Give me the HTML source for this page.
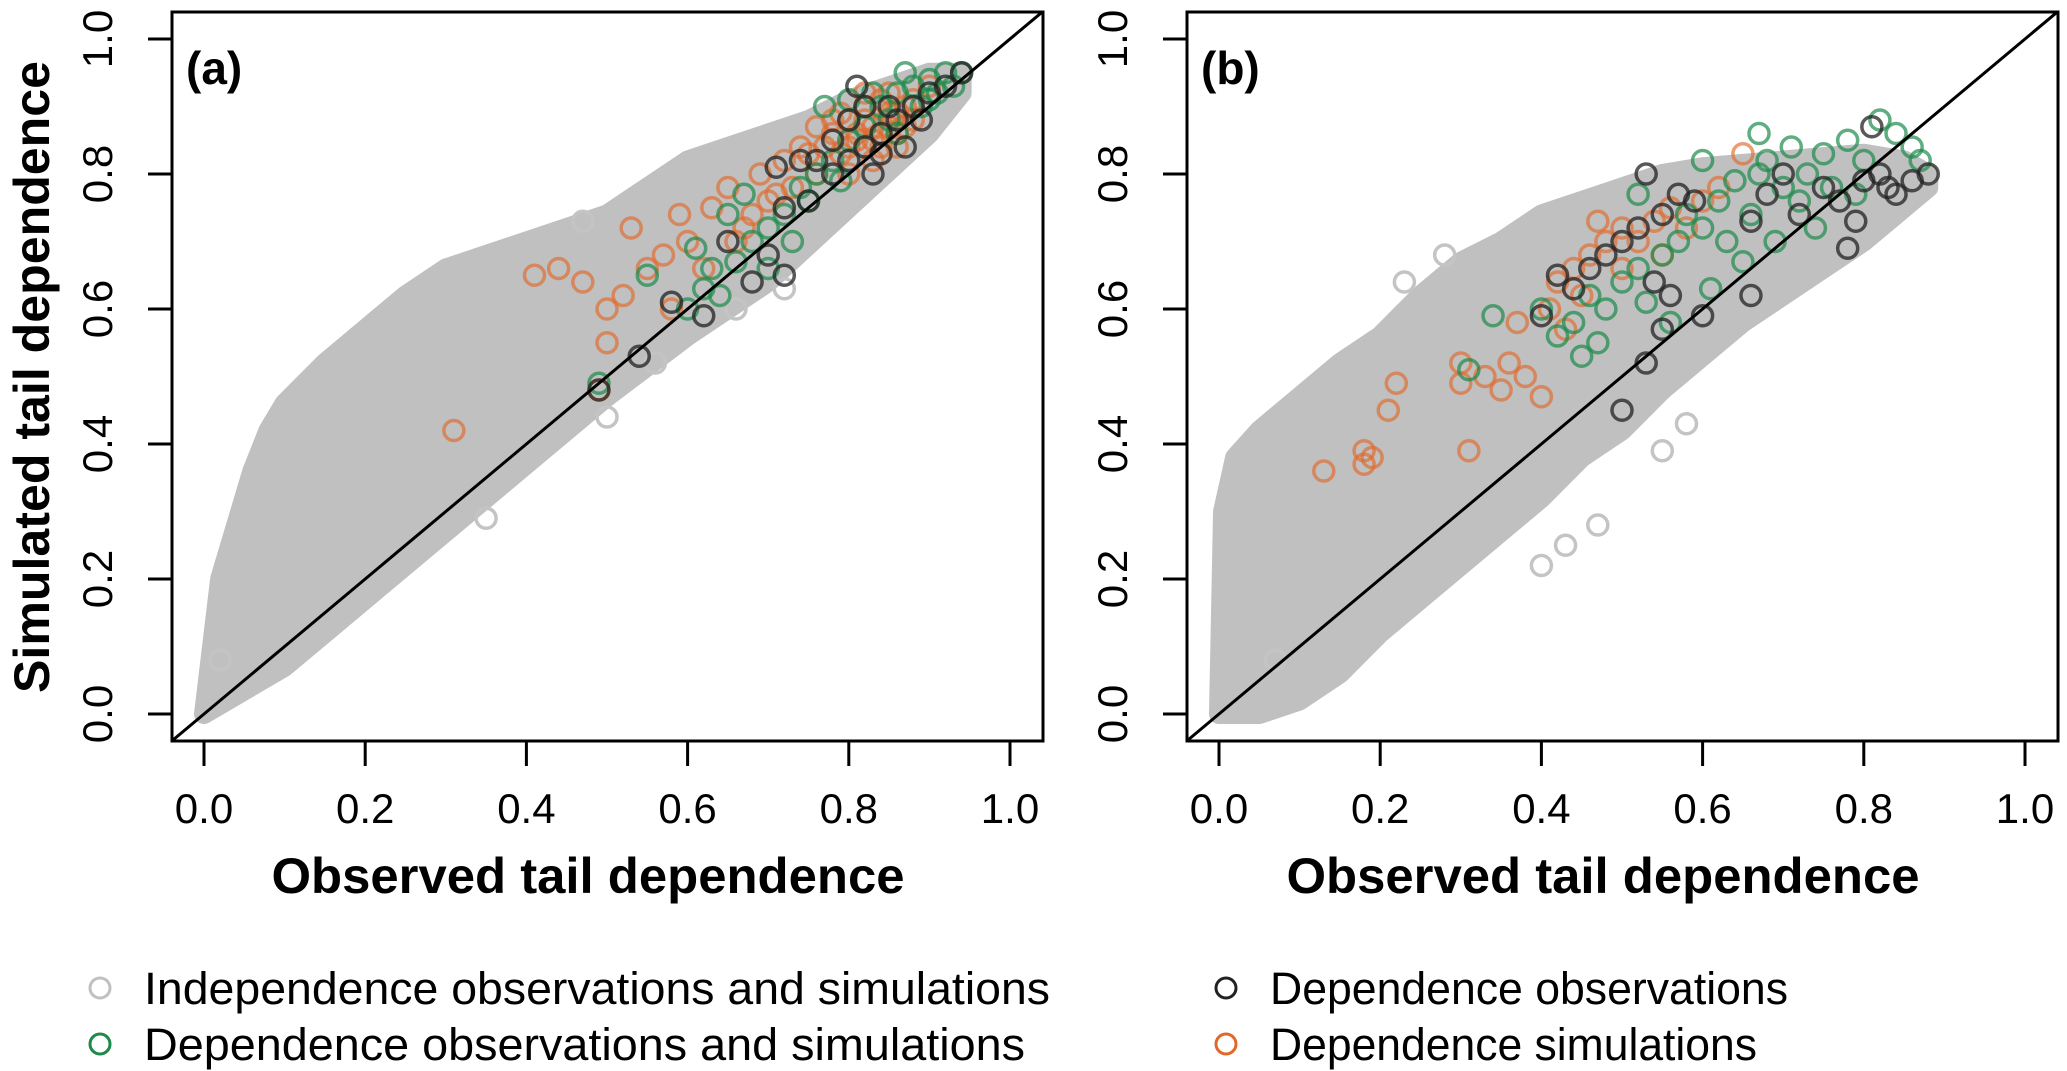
<!DOCTYPE html>
<html><head><meta charset="utf-8"><style>html,body{margin:0;padding:0;background:#fff}svg{display:block}</style></head>
<body>
<svg id="chart" width="2067" height="1071" viewBox="0 0 2067 1071" xmlns="http://www.w3.org/2000/svg" font-family="'Liberation Sans', sans-serif">
<defs>
<clipPath id="clipA"><rect x="172" y="12" width="871" height="729"/></clipPath>
<clipPath id="clipB"><rect x="1187" y="12" width="871" height="729"/></clipPath>
</defs>
<g id="panelA"></g>
<g id="panelB"></g>
<text x="32" y="377" transform="rotate(-90 32 377)" text-anchor="middle" dominant-baseline="central" font-weight="bold" font-size="50" textLength="632" lengthAdjust="spacingAndGlyphs">Simulated tail dependence</text>
<g>
<circle cx="100" cy="988" r="10" fill="none" stroke="#c0c0c0" stroke-width="3"/>
<text x="144" y="1004" font-size="45" textLength="906" lengthAdjust="spacingAndGlyphs">Independence observations and simulations</text>
<circle cx="100" cy="1044" r="10" fill="none" stroke="#1b8a4a" stroke-width="3"/>
<text x="144" y="1060" font-size="45" textLength="881" lengthAdjust="spacingAndGlyphs">Dependence observations and simulations</text>
<circle cx="1226" cy="988" r="10" fill="none" stroke="#222" stroke-width="3"/>
<text x="1270" y="1004" font-size="45" textLength="518" lengthAdjust="spacingAndGlyphs">Dependence observations</text>
<circle cx="1226" cy="1044" r="10" fill="none" stroke="#e0682a" stroke-width="3"/>
<text x="1270" y="1060" font-size="45" textLength="487" lengthAdjust="spacingAndGlyphs">Dependence simulations</text>
</g>
</svg>
<script>
const ticks = [0, 0.2, 0.4, 0.6, 0.8, 1.0];
const tickLabels = ["0.0", "0.2", "0.4", "0.6", "0.8", "1.0"];
const aUpperX = [0, 0.01, 0.02, 0.04, 0.06, 0.08, 0.1, 0.15, 0.2, 0.25, 0.3, 0.35, 0.4, 0.45, 0.5, 0.55, 0.6, 0.65, 0.7, 0.75, 0.8, 0.85, 0.9, 0.94];
const aUpperY = [0, 0.1, 0.2, 0.28, 0.36, 0.42, 0.46, 0.52, 0.57, 0.62, 0.66, 0.68, 0.70, 0.72, 0.74, 0.78, 0.82, 0.84, 0.86, 0.88, 0.91, 0.93, 0.95, 0.95];
const aLowerX = [0, 0.1, 0.2, 0.3, 0.4, 0.5, 0.6, 0.7, 0.8, 0.9, 0.94];
const aLowerY = [0, 0.07, 0.17, 0.27, 0.37, 0.47, 0.56, 0.64, 0.75, 0.86, 0.92];
const aGrayX = [0.35, 0.5, 0.56, 0.66, 0.72, 0.47, 0.02];
const aGrayY = [0.29, 0.44, 0.52, 0.6, 0.63, 0.73, 0.08];
const aOrangeX = [0.31,0.49,0.5,0.41,0.44,0.47,0.5,0.52,0.55,0.57,0.53,0.59,0.62,0.6,0.63,0.65,0.67,0.69,0.7,0.72,0.74,0.76,0.78,0.8,0.82,0.84,0.85,0.87,0.88,0.9,0.83,0.86,0.79,0.81,0.83,0.86,0.88,0.76,0.73,0.66,0.58,0.8,0.82,0.85,0.78,0.84,0.81,0.83,0.85,0.87,0.79,0.77,0.82,0.84,0.86,0.8,0.75,0.71,0.68];
const aOrangeY = [0.42,0.48,0.55,0.65,0.66,0.64,0.6,0.62,0.66,0.68,0.72,0.74,0.66,0.7,0.75,0.78,0.72,0.8,0.76,0.82,0.84,0.8,0.86,0.88,0.9,0.86,0.92,0.9,0.88,0.93,0.82,0.84,0.83,0.85,0.87,0.89,0.91,0.87,0.78,0.7,0.6,0.84,0.88,0.87,0.88,0.91,0.86,0.85,0.89,0.87,0.89,0.84,0.92,0.84,0.86,0.8,0.83,0.77,0.74];
const aGreenX = [0.49,0.55,0.6,0.62,0.63,0.64,0.66,0.68,0.7,0.72,0.65,0.67,0.74,0.76,0.78,0.8,0.82,0.84,0.86,0.88,0.9,0.92,0.94,0.8,0.85,0.89,0.91,0.77,0.83,0.87,0.61,0.7,0.73,0.75,0.79,0.86,0.9,0.93];
const aGreenY = [0.49,0.65,0.6,0.63,0.66,0.62,0.67,0.7,0.72,0.74,0.74,0.77,0.78,0.8,0.82,0.85,0.87,0.9,0.92,0.93,0.94,0.95,0.95,0.91,0.88,0.9,0.92,0.9,0.92,0.95,0.69,0.66,0.7,0.76,0.79,0.86,0.91,0.93];
const aBlackX = [0.49,0.54,0.58,0.65,0.68,0.72,0.7,0.72,0.75,0.78,0.8,0.82,0.84,0.86,0.88,0.9,0.92,0.94,0.8,0.82,0.85,0.78,0.76,0.74,0.81,0.87,0.83,0.71,0.62,0.89,0.84];
const aBlackY = [0.48,0.53,0.61,0.7,0.64,0.65,0.68,0.75,0.76,0.8,0.82,0.84,0.86,0.88,0.9,0.92,0.93,0.95,0.88,0.9,0.9,0.85,0.82,0.82,0.93,0.84,0.8,0.81,0.59,0.88,0.83];
const bUpperX = [0, 0.005, 0.02, 0.05, 0.1, 0.15, 0.2, 0.25, 0.3, 0.35, 0.4, 0.45, 0.5, 0.55, 0.6, 0.7, 0.8, 0.85, 0.88];
const bUpperY = [0, 0.3, 0.38, 0.42, 0.47, 0.52, 0.56, 0.62, 0.67, 0.7, 0.74, 0.76, 0.78, 0.8, 0.81, 0.82, 0.83, 0.82, 0.8];
const bLowerX = [0, 0.05, 0.1, 0.15, 0.2, 0.25, 0.3, 0.35, 0.4, 0.45, 0.5, 0.55, 0.6, 0.65, 0.7, 0.75, 0.8, 0.85, 0.88];
const bLowerY = [0, 0.0, 0.02, 0.06, 0.12, 0.17, 0.22, 0.27, 0.32, 0.38, 0.42, 0.48, 0.53, 0.58, 0.62, 0.66, 0.7, 0.75, 0.78];
const bGrayX = [0.43, 0.47, 0.58, 0.55, 0.4, 0.07, 0.28, 0.23];
const bGrayY = [0.25, 0.28, 0.43, 0.39, 0.22, 0.08, 0.68, 0.64];
const bOrangeX = [0.13,0.18,0.18,0.19,0.21,0.22,0.3,0.3,0.31,0.33,0.35,0.36,0.38,0.37,0.4,0.41,0.42,0.44,0.45,0.46,0.48,0.5,0.52,0.54,0.56,0.58,0.6,0.62,0.55,0.65,0.5,0.47,0.43];
const bOrangeY = [0.36,0.37,0.39,0.38,0.45,0.49,0.49,0.52,0.39,0.5,0.48,0.52,0.5,0.58,0.47,0.6,0.64,0.66,0.62,0.68,0.7,0.72,0.7,0.73,0.75,0.72,0.76,0.78,0.68,0.83,0.66,0.73,0.57];
const bGreenX = [0.31,0.34,0.4,0.42,0.44,0.46,0.48,0.5,0.52,0.53,0.55,0.57,0.58,0.6,0.62,0.63,0.64,0.66,0.67,0.68,0.7,0.71,0.72,0.73,0.75,0.76,0.78,0.8,0.82,0.84,0.86,0.87,0.74,0.69,0.65,0.61,0.56,0.47,0.45,0.6,0.67,0.79,0.52];
const bGreenY = [0.51,0.59,0.6,0.56,0.58,0.62,0.6,0.64,0.66,0.61,0.68,0.7,0.74,0.72,0.76,0.7,0.79,0.74,0.8,0.82,0.78,0.84,0.76,0.8,0.83,0.78,0.85,0.82,0.88,0.86,0.84,0.82,0.72,0.7,0.67,0.63,0.58,0.55,0.53,0.82,0.86,0.77,0.77];
const bBlackX = [0.5,0.53,0.55,0.56,0.54,0.4,0.42,0.44,0.46,0.48,0.5,0.52,0.55,0.57,0.59,0.6,0.66,0.66,0.68,0.7,0.72,0.75,0.77,0.78,0.79,0.8,0.82,0.83,0.84,0.86,0.88,0.81,0.53];
const bBlackY = [0.45,0.52,0.57,0.62,0.64,0.59,0.65,0.63,0.66,0.68,0.7,0.72,0.74,0.77,0.76,0.59,0.62,0.73,0.77,0.8,0.74,0.78,0.76,0.69,0.73,0.79,0.8,0.78,0.77,0.79,0.8,0.87,0.8];

const NS = "http://www.w3.org/2000/svg";
function mk(tag, attrs, parent) {
  const e = document.createElementNS(NS, tag);
  for (const k in attrs) e.setAttribute(k, attrs[k]);
  parent.appendChild(e);
  return e;
}
function makePanel(g, left, clipId, label, upX, upY, loX, loY, grX, grY, orX, orY, gnX, gnY, bkX, bkY) {
  const top = 12, bottom = 741;
  const sx = v => left + 32 + v * 806;
  const sy = v => 714 - v * 675;
  const pg = mk('g', {'clip-path': 'url(#' + clipId + ')'}, g);
  let pts = [];
  for (let i = 0; i < upX.length; i++) pts.push(sx(upX[i]) + ',' + sy(upY[i]));
  for (let i = loX.length - 1; i >= 0; i--) pts.push(sx(loX[i]) + ',' + sy(loY[i]));
  const poly = mk('polygon', {points: pts.join(' '), fill: '#c0c0c0', stroke: '#c0c0c0', 'stroke-width': 20, 'stroke-linejoin': 'round'}, pg);
  
  
  function pointsSet(xs, ys, color, name, op) {
    for (let i = 0; i < xs.length; i++) {
      const c = mk('circle', {cx: sx(xs[i]), cy: sy(ys[i]), r: 10, fill: 'none', stroke: color, 'stroke-width': 3.5, 'stroke-opacity': op}, pg);
      
      
    }
  }
  pointsSet(grX, grY, '#c4c4c4', 'independence-point', 1);
  pointsSet(orX, orY, '#e0682a', 'dependence-simulation-point', 0.65);
  pointsSet(gnX, gnY, '#1b8a4a', 'dependence-obs-sim-point', 0.7);
  pointsSet(bkX, bkY, '#222222', 'dependence-observation-point', 0.75);
  const diag = mk('line', {x1: sx(-0.04), y1: sy(-0.04), x2: sx(1.04), y2: sy(1.04), stroke: '#000', 'stroke-width': 3}, pg);
  
  
  const box = mk('rect', {x: left, y: top, width: 871, height: bottom - top, fill: 'none', stroke: '#000', 'stroke-width': 3}, g);
  
  
  for (let i = 0; i < ticks.length; i++) {
    const xt = sx(ticks[i]);
    const l = mk('line', {x1: xt, y1: bottom, x2: xt, y2: 766, stroke: '#000', 'stroke-width': 3}, g);
    
    
    const t = mk('text', {x: xt, y: 823, 'text-anchor': 'middle', 'font-size': 42}, g);
    t.textContent = tickLabels[i];
    
    
    const yt = sy(ticks[i]);
    const l2 = mk('line', {x1: left - 24, y1: yt, x2: left, y2: yt, stroke: '#000', 'stroke-width': 3}, g);
    
    
    const bx = left - 60;
    const t2 = mk('text', {x: bx, y: yt, 'text-anchor': 'middle', 'font-size': 42, transform: 'rotate(-90 ' + bx + ' ' + yt + ')'}, g);
    t2.textContent = tickLabels[i];
    
    
  }
  const xt = mk('text', {x: left + 416, y: 893, 'text-anchor': 'middle', 'font-size': 50, 'font-weight': 'bold', textLength: 633, lengthAdjust: 'spacingAndGlyphs'}, g);
  xt.textContent = 'Observed tail dependence';
  
  
  const pl = mk('text', {x: left + 14, y: 84, 'font-size': 46, 'font-weight': 'bold'}, g);
  pl.textContent = label;
  
  
}
makePanel(document.getElementById('panelA'), 172, 'clipA', '(a)', aUpperX, aUpperY, aLowerX, aLowerY, aGrayX, aGrayY, aOrangeX, aOrangeY, aGreenX, aGreenY, aBlackX, aBlackY);
makePanel(document.getElementById('panelB'), 1187, 'clipB', '(b)', bUpperX, bUpperY, bLowerX, bLowerY, bGrayX, bGrayY, bOrangeX, bOrangeY, bGreenX, bGreenY, bBlackX, bBlackY);
</script>
</body></html>
